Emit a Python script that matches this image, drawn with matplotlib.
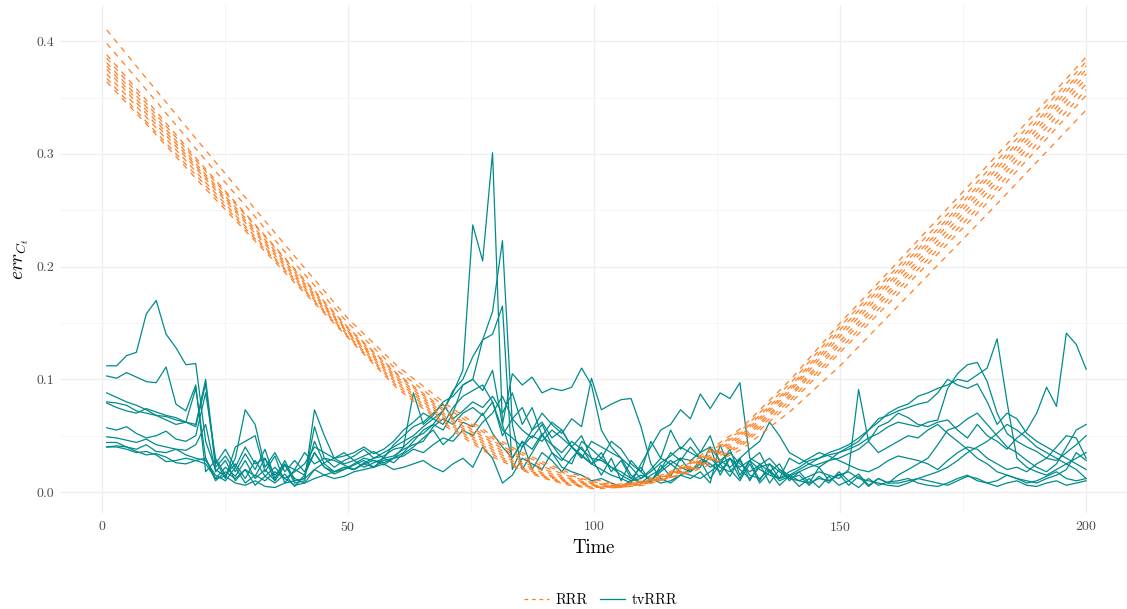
import numpy as np
import matplotlib
matplotlib.use("Agg")
import matplotlib.pyplot as plt
from matplotlib.lines import Line2D
from matplotlib.ticker import MultipleLocator

plt.rcParams["font.family"] = ["cmr10"]
plt.rcParams["mathtext.fontset"] = "cm"
plt.rcParams["axes.formatter.use_mathtext"] = True

ORANGE = "#FF7F24"
TEAL = "#008B8B"

# ---- RRR (dashed), values x 1e-3 ----
t_rrr = [1, 10, 20, 30, 40, 50, 60, 70, 80, 85, 90, 95, 100,
         105, 110, 115, 120, 125, 130, 140, 150, 160, 170, 180, 190, 200]
rrr_1 = [410, 362, 309, 257, 205, 154, 112, 78, 48, 36, 26, 17, 11,
         7, 9, 12, 18, 27, 38, 72, 112, 157, 202, 247, 293, 339]
rrr_2 = [398, 352, 300, 250, 199, 150, 108, 75, 46, 34, 24, 15, 9,
         6, 10, 17, 28, 42, 57, 100, 150, 196, 243, 290, 338, 386]
rrr_3 = [388, 343, 292, 243, 194, 146, 105, 72, 44, 32, 22, 14, 8,
         5, 8, 14, 23, 34, 47, 87, 134, 179, 224, 270, 318, 367]
rrr_4 = [385, 340, 290, 242, 193, 145, 104, 70, 42, 30, 20, 12, 7,
         6, 9, 16, 27, 40, 55, 97, 147, 192, 238, 285, 333, 382]
rrr_5 = [381, 337, 287, 239, 191, 143, 102, 68, 40, 28, 18, 11, 6,
         4, 7, 12, 21, 31, 43, 82, 127, 172, 216, 261, 309, 357]
rrr_6 = [378, 334, 285, 237, 189, 142, 100, 66, 38, 26, 16, 10, 6,
         5, 9, 15, 26, 39, 53, 94, 144, 189, 234, 281, 329, 378]
rrr_7 = [375, 331, 283, 235, 187, 141, 98, 64, 36, 24, 15, 9, 5,
         4, 6, 12, 20, 30, 41, 79, 124, 168, 212, 257, 304, 352]
rrr_8 = [371, 328, 280, 232, 185, 139, 96, 62, 34, 22, 14, 8, 4,
         5, 8, 15, 25, 37, 51, 92, 141, 186, 231, 278, 326, 375]
rrr_9 = [367, 324, 277, 230, 184, 138, 94, 60, 32, 21, 13, 7, 4,
         5, 8, 14, 24, 36, 49, 90, 138, 183, 228, 274, 322, 371]
rrr_10 = [364, 322, 274, 228, 182, 137, 92, 58, 30, 20, 12, 6, 3,
          4, 7, 13, 22, 33, 45, 85, 131, 176, 220, 266, 314, 362]

# ---- tvRRR (solid), 100 observations from t=1 to t=200, values x 1e-3 ----
tvrrr_1 = [112, 112, 121, 124, 158, 170, 140, 128, 113, 114,
           45, 20, 14, 30, 73, 60, 22, 35, 18, 28,
           18, 35, 22, 16, 20, 24, 28, 22, 30, 26,
           34, 40, 48, 55, 42, 50, 62, 58, 70, 52,
           40, 30, 45, 38, 52, 35, 28, 40, 33, 25,
           30, 22, 18, 12, 8, 15, 20, 28, 22, 18,
           25, 30, 22, 18, 28, 15, 12, 20, 10, 14,
           18, 22, 25, 28, 30, 34, 38, 45, 58, 62,
           70, 66, 60, 58, 62, 64, 55, 48, 60, 50,
           45, 38, 48, 55, 70, 93, 76, 141, 131, 109]
tvrrr_2 = [88, 84, 80, 77, 73, 68, 64, 60, 62, 92,
           30, 12, 22, 14, 28, 12, 20, 10, 24, 20,
           15, 45, 25, 18, 22, 20, 25, 28, 24, 30,
           35, 45, 55, 60, 72, 88, 108, 237, 205, 301,
           60, 30, 45, 20, 35, 28, 18, 30, 40, 25,
           35, 18, 28, 12, 22, 8, 24, 14, 30, 18,
           28, 12, 25, 14, 30, 10, 25, 8, 20, 12,
           15, 6, 14, 8, 18, 10, 16, 6, 12, 8,
           15, 20, 25, 30, 42, 55, 58, 65, 70, 60,
           50, 40, 35, 28, 22, 18, 25, 40, 55, 60]
tvrrr_3 = [103, 101, 106, 102, 98, 97, 111, 78, 72, 95,
           18, 28, 12, 40, 45, 50, 18, 32, 8, 20,
           35, 25, 30, 22, 28, 32, 38, 30, 35, 40,
           45, 50, 58, 65, 72, 90, 100, 120, 135, 160,
           223, 60, 20, 35, 50, 42, 30, 25, 45, 38,
           30, 45, 38, 25, 18, 10, 20, 35, 28, 40,
           30, 25, 18, 30, 20, 12, 22, 25, 18, 12,
           10, 14, 18, 15, 12, 20, 91, 45, 35, 40,
           45, 50, 48, 55, 60, 52, 45, 38, 30, 25,
           18, 15, 12, 10, 8, 12, 15, 20, 35, 28]
tvrrr_4 = [80, 79, 77, 72, 70, 68, 67, 64, 62, 58,
           96, 22, 32, 18, 34, 20, 38, 12, 28, 10,
           12, 58, 30, 28, 24, 20, 26, 30, 32, 38,
           40, 48, 52, 60, 55, 70, 95, 100, 135, 140,
           165, 20, 40, 55, 62, 48, 55, 40, 50, 30,
           15, 30, 10, 28, 18, 45, 30, 55, 38, 48,
           35, 50, 25, 38, 15, 28, 10, 25, 12, 30,
           25, 30, 35, 32, 28, 24, 20, 18, 22, 28,
           32, 30, 28, 25, 20, 28, 35, 40, 38, 30,
           25, 20, 22, 18, 25, 30, 40, 50, 48, 30]
tvrrr_5 = [79, 75, 72, 70, 74, 71, 68, 66, 62, 60,
           100, 25, 38, 22, 40, 25, 30, 10, 24, 12,
           8, 20, 26, 30, 35, 28, 32, 36, 30, 42,
           50, 58, 62, 70, 78, 65, 72, 80, 75, 85,
           70, 88, 60, 75, 50, 62, 55, 40, 30, 45,
           40, 35, 30, 22, 12, 18, 26, 32, 40, 35,
           30, 22, 28, 35, 25, 18, 24, 30, 20, 15,
           20, 25, 30, 35, 38, 42, 48, 55, 62, 70,
           75, 78, 85, 88, 92, 95, 100, 98, 104, 110,
           136, 80, 30, 22, 18, 15, 20, 25, 30, 35]
tvrrr_6 = [57, 55, 58, 52, 48, 50, 54, 47, 45, 50,
           88, 30, 15, 25, 12, 28, 14, 22, 12, 18,
           25, 40, 35, 30, 32, 35, 40, 34, 38, 45,
           55, 62, 70, 65, 60, 75, 85, 90, 95, 80,
           50, 65, 55, 48, 60, 42, 35, 45, 38, 30,
           28, 22, 15, 10, 12, 20, 30, 25, 18, 15,
           12, 18, 25, 30, 22, 28, 20, 15, 12, 18,
           22, 28, 30, 33, 35, 38, 42, 48, 52, 58,
           62, 60, 58, 62, 64, 92, 105, 113, 115, 98,
           70, 52, 45, 40, 36, 30, 28, 35, 42, 50]
tvrrr_7 = [49, 48, 46, 44, 47, 42, 40, 38, 37, 42,
           60, 18, 28, 10, 20, 14, 30, 15, 25, 8,
           10, 73, 50, 30, 25, 28, 22, 26, 30, 32,
           38, 42, 45, 58, 65, 60, 70, 75, 68, 80,
           55, 48, 40, 50, 45, 55, 48, 40, 32, 25,
           20, 15, 12, 8, 25, 40, 55, 60, 73, 65,
           87, 74, 88, 83, 97, 30, 25, 18, 12, 15,
           10, 8, 12, 10, 15, 18, 12, 10, 8, 6,
           5, 8, 12, 10, 8, 6, 10, 14, 12, 8,
           10, 15, 12, 8, 10, 14, 18, 12, 10, 12]
tvrrr_8 = [44, 44, 40, 38, 42, 36, 35, 38, 33, 30,
           28, 15, 10, 22, 8, 15, 10, 18, 12, 6,
           8, 12, 15, 18, 22, 20, 25, 22, 28, 30,
           32, 38, 35, 42, 48, 45, 55, 50, 62, 70,
           85, 65, 75, 55, 70, 60, 52, 65, 58, 101,
           73, 78, 82, 83, 58, 25, 12, 8, 15, 20,
           22, 40, 15, 30, 12, 28, 35, 18, 25, 10,
           18, 8, 22, 10, 16, 6, 14, 5, 12, 8,
           8, 10, 12, 15, 18, 22, 28, 35, 40, 45,
           52, 60, 55, 48, 40, 35, 30, 25, 20, 12]
tvrrr_9 = [40, 40, 38, 35, 36, 33, 27, 28, 30, 28,
           30, 10, 18, 12, 20, 6, 14, 8, 16, 5,
           15, 35, 22, 18, 20, 25, 30, 28, 26, 30,
           40, 88, 60, 68, 80, 85, 95, 100, 90, 108,
           60, 105, 95, 102, 88, 92, 90, 93, 110, 95,
           55, 40, 30, 15, 8, 10, 18, 25, 30, 28,
           35, 40, 28, 22, 30, 38, 45, 62, 50, 35,
           30, 25, 22, 28, 35, 40, 45, 55, 65, 68,
           72, 75, 78, 80, 88, 100, 95, 92, 96, 80,
           60, 70, 65, 52, 45, 40, 35, 30, 25, 20]
tvrrr_10 = [40, 41, 40, 36, 33, 34, 31, 26, 25, 28,
            25, 12, 14, 8, 6, 10, 5, 4, 8, 10,
            12, 20, 15, 12, 14, 18, 20, 22, 25, 20,
            22, 25, 28, 22, 18, 25, 30, 22, 40, 30,
            8, 15, 30, 25, 20, 35, 22, 18, 15, 10,
            12, 8, 5, 10, 15, 12, 8, 10, 15, 12,
            18, 8, 42, 20, 10, 25, 8, 18, 6, 14,
            5, 12, 4, 14, 6, 10, 4, 12, 6, 9,
            10, 12, 8, 6, 5, 8, 12, 15, 10, 8,
            5, 8, 10, 6, 5, 8, 10, 6, 8, 10]
t_tv = np.linspace(1, 200, 100)

rrr_series = [rrr_1, rrr_2, rrr_3, rrr_4, rrr_5, rrr_6, rrr_7, rrr_8, rrr_9, rrr_10]
tv_series = [tvrrr_1, tvrrr_2, tvrrr_3, tvrrr_4, tvrrr_5,
             tvrrr_6, tvrrr_7, tvrrr_8, tvrrr_9, tvrrr_10]

fig = plt.figure(figsize=(11.27, 6.09), dpi=100)
ax = fig.add_axes([0.0532, 0.1576, 0.9468, 0.834])

for s in tv_series:
    ax.plot(t_tv, np.array(s) / 1000, color=TEAL, lw=0.9, zorder=3)
for s in rrr_series:
    ax.plot(t_rrr, np.array(s) / 1000, color=ORANGE, lw=0.9,
            dashes=(4.5, 4.5), zorder=4)

ax.set_xlim(-8.5, 208.3)
ax.set_ylim(-0.0186, 0.432)
ax.xaxis.set_major_locator(MultipleLocator(50))
ax.xaxis.set_minor_locator(MultipleLocator(25))
ax.yaxis.set_major_locator(MultipleLocator(0.1))
ax.yaxis.set_minor_locator(MultipleLocator(0.05))
ax.yaxis.set_major_formatter(plt.FuncFormatter(lambda v, p: f"{v:.1f}"))
ax.grid(which="major", color="#EEEEEE", lw=0.9, zorder=0)
ax.grid(which="minor", color="#F3F3F3", lw=0.55, zorder=0)
for sp in ax.spines.values():
    sp.set_visible(False)
ax.tick_params(which="both", length=0, labelsize=10, labelcolor="#4D4D4D")
ax.tick_params(axis="x", pad=5)
ax.tick_params(axis="y", pad=4)
ax.set_xlabel("Time", fontsize=13.5, labelpad=4)
ax.set_ylabel(r"$err_{C_t}$", fontsize=14, labelpad=4)

handles = [Line2D([], [], color=ORANGE, lw=0.9, dashes=(3, 3)),
           Line2D([], [], color=TEAL, lw=0.9)]
fig.legend(handles, ["RRR", "tvRRR"], loc="center", bbox_to_anchor=(0.533, 0.015),
           ncol=2, frameon=False, fontsize=10.5, handlelength=1.7,
           columnspacing=0.8, handletextpad=0.5)

fig.savefig("out.png", dpi=100)
